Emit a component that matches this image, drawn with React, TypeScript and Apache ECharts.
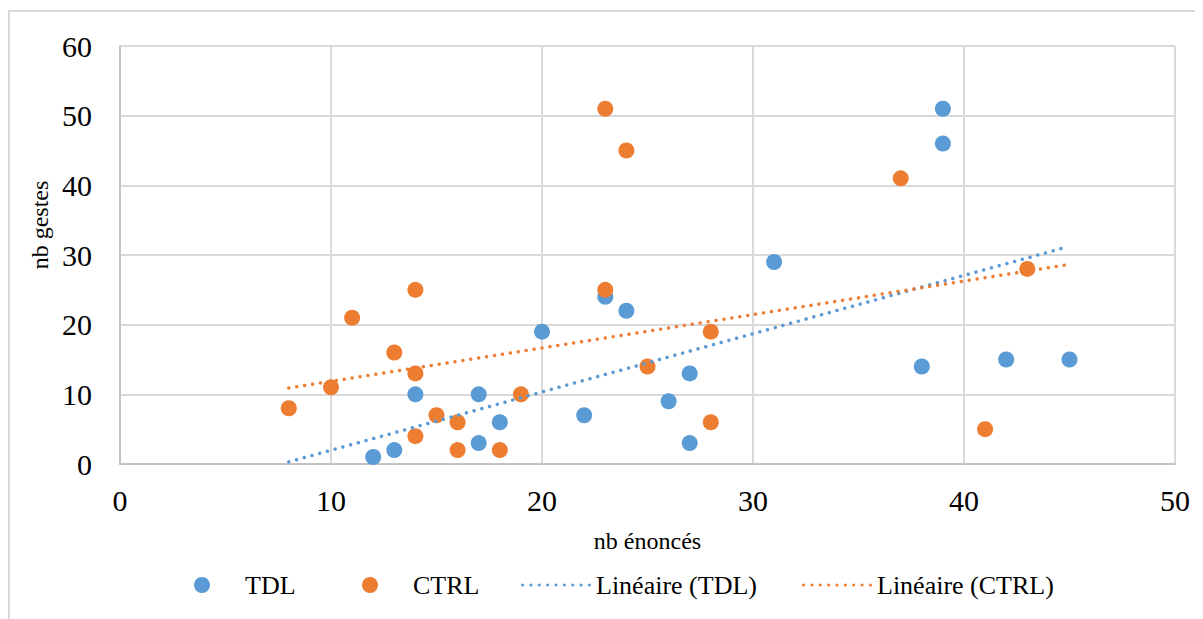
import React, { useEffect, useRef } from "react";
import * as echarts from "echarts";

const tdlX = [12, 13, 14, 17, 17, 18, 20, 22, 23, 24, 26, 27, 27, 31, 38, 39, 39, 42, 45];
const tdlY = [1, 2, 10, 10, 3, 6, 19, 7, 24, 22, 9, 13, 3, 29, 14, 51, 46, 15, 15];
const ctrlX = [8, 10, 11, 13, 14, 14, 14, 15, 16, 16, 18, 19, 23, 24, 23, 25, 28, 28, 37, 41, 43];
const ctrlY = [8, 11, 21, 16, 25, 13, 4, 7, 6, 2, 2, 10, 51, 45, 25, 14, 19, 6, 41, 5, 28];
// trendline endpoints
const tdlTrendX = [8, 44.7];
const tdlTrendY = [0.3, 31.0];
const ctrlTrendX = [8, 44.8];
const ctrlTrendY = [10.9, 28.55];

const seriesNames = ["TDL", "CTRL", "Linéaire (TDL)", "Linéaire (CTRL)"];
const xTitle = "nb énoncés";
const yTitle = "nb gestes";

const BLUE = "#5B9BD5";
const ORANGE = "#ED7D31";
const FONT = "Liberation Serif";

// dotted legend icon: 9 round dots, 8 px apart
const DOTS =
  "path://" +
  Array.from({ length: 9 }, (_, i) => {
    const cx = 1.5 + i * 8;
    return `M${cx - 1.5},1.5a1.5,1.5 0 1,0 3,0a1.5,1.5 0 1,0 -3,0Z`;
  }).join("");

const zip = (xs: number[], ys: number[]) => xs.map((x, i) => [x, ys[i]]);

export default function App() {
  const ref = useRef<HTMLDivElement>(null);
  useEffect(() => {
    if (!ref.current) return;
    const chart = echarts.init(ref.current, undefined, { renderer: "svg" });
    const legendBase = {
      top: 564,
      padding: 0,
      itemHeight: 16,
      textStyle: { fontFamily: FONT, fontSize: 26, color: "#000" },
    };
    chart.setOption({
      animation: false,
      backgroundColor: "#fff",
      textStyle: { fontFamily: FONT },
      grid: { left: 112, top: 38, right: 28, bottom: 155, containLabel: false },
      xAxis: {
        type: "value",
        min: 0,
        max: 50,
        interval: 10,
        name: xTitle,
        nameLocation: "middle",
        nameGap: 65,
        nameTextStyle: { fontFamily: FONT, fontSize: 24, color: "#000" },
        axisLine: { show: true, lineStyle: { color: "#c4c4c4", width: 2 } },
        axisTick: { show: false },
        splitLine: { show: true, lineStyle: { color: "#d9d9d9", width: 2 } },
        axisLabel: { fontFamily: FONT, fontSize: 30, color: "#000", margin: 21 },
      },
      yAxis: {
        type: "value",
        min: 0,
        max: 60,
        interval: 10,
        axisLine: { show: true, lineStyle: { color: "#c4c4c4", width: 2 } },
        axisTick: { show: false },
        splitLine: { show: true, lineStyle: { color: "#d9d9d9", width: 2 } },
        axisLabel: { fontFamily: FONT, fontSize: 30, color: "#000", margin: 28 },
      },
      legend: [
        { ...legendBase, left: 186, itemWidth: 76, data: [{ name: seriesNames[0], icon: "circle" }] },
        { ...legendBase, left: 354, itemWidth: 76, data: [{ name: seriesNames[1], icon: "circle" }] },
        { ...legendBase, left: 513, itemWidth: 70, data: [{ name: seriesNames[2], icon: DOTS }] },
        { ...legendBase, left: 794, itemWidth: 70, data: [{ name: seriesNames[3], icon: DOTS }] },
      ],
      graphic: [
        {
          type: "rect",
          shape: { x: 1, y: 3, width: 1300, height: 800 },
          style: { fill: "none", stroke: "#d9d9d9", lineWidth: 2 },
          silent: true,
        },
        {
          type: "text",
          x: 32,
          y: 217,
          rotation: Math.PI / 2,
          style: {
            text: yTitle,
            fontFamily: FONT,
            fontSize: 24,
            fill: "#000",
            align: "center",
            verticalAlign: "middle",
          },
        },
      ],
      series: [
        {
          name: seriesNames[0],
          type: "scatter",
          data: zip(tdlX, tdlY),
          symbol: "circle",
          symbolSize: 16,
          itemStyle: { color: BLUE, opacity: 1 },
          z: 3,
        },
        {
          name: seriesNames[1],
          type: "scatter",
          data: zip(ctrlX, ctrlY),
          symbol: "circle",
          symbolSize: 16,
          itemStyle: { color: ORANGE, opacity: 1 },
          z: 3,
        },
        {
          name: seriesNames[2],
          type: "line",
          data: zip(tdlTrendX, tdlTrendY),
          symbol: "none",
          showSymbol: false,
          lineStyle: { color: BLUE, width: 3.5, type: [0.01, 8], cap: "round" },
          itemStyle: { color: BLUE },
          z: 4,
        },
        {
          name: seriesNames[3],
          type: "line",
          data: zip(ctrlTrendX, ctrlTrendY),
          symbol: "none",
          showSymbol: false,
          lineStyle: { color: ORANGE, width: 3.5, type: [0.01, 8], cap: "round" },
          itemStyle: { color: ORANGE },
          z: 4,
        },
      ],
    });
    return () => chart.dispose();
  }, []);
  return <div ref={ref} style={{ width: 1195, height: 611 }} />;
}
